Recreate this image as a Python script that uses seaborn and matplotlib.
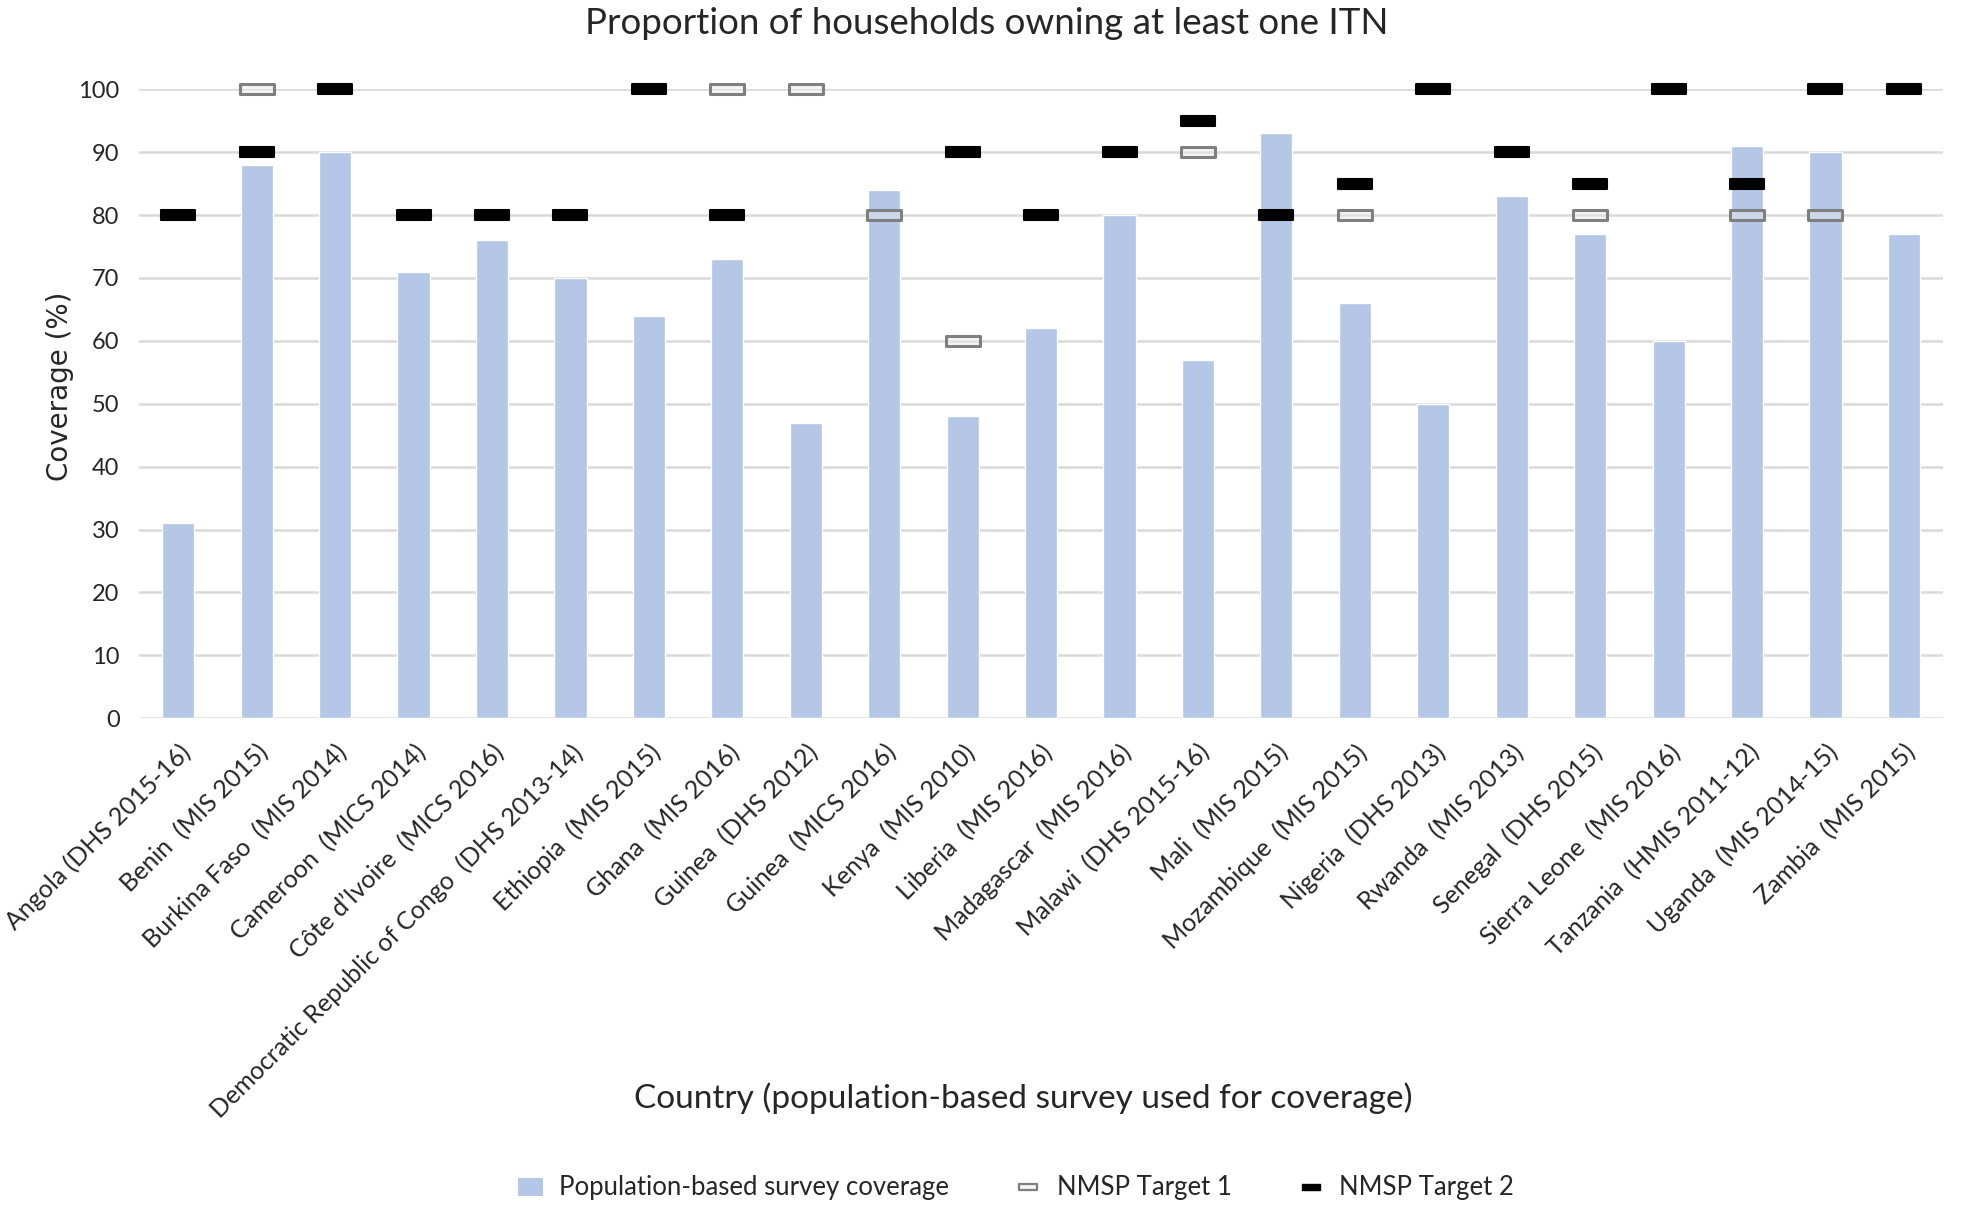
import numpy as np
import matplotlib
matplotlib.use("Agg")
import matplotlib.pyplot as plt
import seaborn as sns
from matplotlib.path import Path
from matplotlib.patches import Patch
from matplotlib.lines import Line2D

categories = [
    "Angola (DHS 2015-16)", "Benin  (MIS 2015)", "Burkina Faso  (MIS 2014)",
    "Cameroon  (MICS 2014)", "Côte d’Ivoire  (MICS 2016)",
    "Democratic Republic of Congo  (DHS 2013-14)", "Ethiopia  (MIS 2015)",
    "Ghana  (MIS 2016)", "Guinea  (DHS 2012)", "Guinea  (MICS 2016)",
    "Kenya  (MIS 2010)", "Liberia  (MIS 2016)", "Madagascar  (MIS 2016)",
    "Malawi  (DHS 2015-16)", "Mali  (MIS 2015)", "Mozambique  (MIS 2015)",
    "Nigeria  (DHS 2013)", "Rwanda  (MIS 2013)", "Senegal  (DHS 2015)",
    "Sierra Leone  (MIS 2016)", "Tanzania  (HMIS 2011-12)",
    "Uganda  (MIS 2014-15)", "Zambia  (MIS 2015)",
]
coverage = [31, 88, 90, 71, 76, 70, 64, 73, 47, 84, 48, 62, 80, 57, 93, 66,
            50, 83, 77, 60, 91, 90, 77]
target1 = [None, 100, None, None, None, None, None, 100, 100, 80, 60, None,
           None, 90, None, 80, None, None, 80, None, 80, 80, None]
target2 = [80, 90, 100, 80, 80, 80, 100, 80, None, None, 90, 80, 90, 95, 80,
           85, 100, 90, 85, 100, 85, 100, 100]
yticks = [0, 10, 20, 30, 40, 50, 60, 70, 80, 90, 100]

sns.set_theme(style="white")
plt.rcParams['font.family'] = ['Lato', 'DejaVu Sans']

BAR = "#b4c7e7"
fig = plt.figure(figsize=(19.61, 12.07), dpi=100)
ax = fig.add_axes([0.0709, 0.405, 0.920, 0.521])

sns.barplot(x=categories, y=coverage, color=BAR, width=0.41, saturation=1,
            ax=ax, zorder=2)

pos = np.arange(len(categories))
t1 = np.array([np.nan if v is None else v for v in target1], dtype=float)
t2 = np.array([np.nan if v is None else v for v in target2], dtype=float)

rect = Path([(-1, -0.28), (1, -0.28), (1, 0.28), (-1, 0.28), (-1, -0.28)],
            [Path.MOVETO, Path.LINETO, Path.LINETO, Path.LINETO, Path.CLOSEPOLY])

sns.scatterplot(x=pos, y=t1, marker=rect, s=24**2, facecolor=(0.92, 0.92, 0.92, 0.45),
                edgecolor="#7f7f7f", linewidth=2.2, ax=ax, zorder=4,
                clip_on=False)
sns.scatterplot(x=pos, y=t2, marker=rect, s=24**2, color="black",
                edgecolor="black", linewidth=1.5, ax=ax, zorder=5,
                clip_on=False)

ax.set_xlim(-0.5, len(categories) - 0.5)
ax.set_ylim(0, 100)
ax.set_yticks(yticks)
ax.set_yticklabels([str(v) for v in yticks], fontsize=17)
ax.yaxis.grid(True, color="#d9d9d9", linewidth=1.8, zorder=0)
ax.set_axisbelow(True)
for s in ax.spines.values():
    s.set_visible(False)
ax.tick_params(axis="y", length=0, pad=14)
ax.tick_params(axis="x", length=0, pad=16)
ax.set_xticks(pos)
ax.set_xticklabels(categories, rotation=45, ha="right",
                   rotation_mode="anchor", fontsize=18)

ax.set_ylabel("Coverage (%)", fontsize=20, family=["DejaVu Sans"])
ax.yaxis.set_label_coords(-0.036, 0.527)
ax.set_xlabel("")
fig.text(0.522, 1 - 1098 / 1207, "Country (population-based survey used for coverage)",
         ha="center", va="center", fontsize=24)
fig.text(0.503, 1 - 23 / 1207, "Proportion of households owning at least one ITN",
         ha="center", va="center", fontsize=26.5)

handles = [
    Patch(facecolor=BAR, edgecolor="none"),
    Line2D([], [], linestyle="none", marker=rect, markersize=13,
           markerfacecolor=(0.92, 0.92, 0.92, 0.45), markeredgecolor="#7f7f7f",
           markeredgewidth=1.6),
    Line2D([], [], linestyle="none", marker=rect, markersize=13,
           markerfacecolor="black", markeredgecolor="black"),
]
labels = ["Population-based survey coverage", "NMSP Target 1", "NMSP Target 2"]
fig.legend(handles, labels, loc="center", ncol=3, frameon=False,
           bbox_to_anchor=(0.518, 1 - 1188 / 1207), fontsize=18.5,
           columnspacing=2.6, handlelength=1.0, handletextpad=0.6)

fig.savefig("out.png", dpi=100)
